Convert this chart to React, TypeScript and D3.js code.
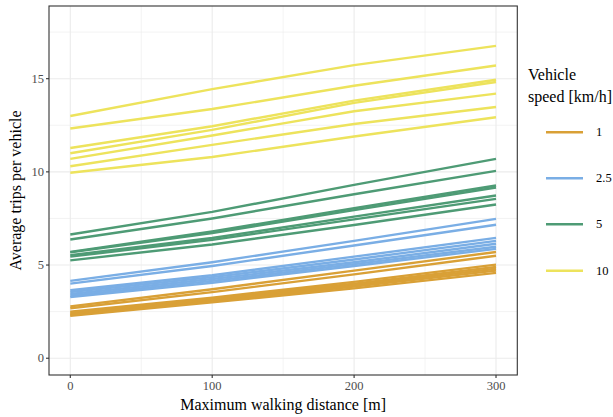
import React from "react";
import * as d3 from "d3";

const distances = [0, 100, 200, 300];
const speedLabels = ["1", "2.5", "5", "10"];
const speedColors = ["#d9a036", "#7aaee5", "#4e9b75", "#ede35c"];

const orangeSeries = [
  [2.78, 3.7, 4.7, 5.7],
  [2.68, 3.55, 4.5, 5.5],
  [2.5, 3.25, 4.1, 5.02],
  [2.45, 3.2, 4.0, 4.9],
  [2.38, 3.12, 3.92, 4.8],
  [2.32, 3.05, 3.85, 4.7],
  [2.27, 3.0, 3.75, 4.58],
];
const blueSeries = [
  [4.15, 5.15, 6.3, 7.48],
  [4.0, 4.95, 6.05, 7.16],
  [3.65, 4.45, 5.45, 6.46],
  [3.55, 4.35, 5.3, 6.3],
  [3.45, 4.25, 5.15, 6.14],
  [3.35, 4.15, 5.05, 5.98],
  [3.28, 4.05, 4.95, 5.87],
];
const greenSeries = [
  [6.64, 7.85, 9.3, 10.7],
  [6.37, 7.5, 8.8, 10.05],
  [5.71, 6.8, 8.05, 9.27],
  [5.68, 6.72, 7.95, 9.16],
  [5.53, 6.45, 7.6, 8.73],
  [5.45, 6.35, 7.45, 8.55],
  [5.25, 6.1, 7.15, 8.25],
];
const yellowSeries = [
  [13.0, 14.44, 15.73, 16.76],
  [12.33, 13.37, 14.62, 15.71],
  [11.28, 12.45, 13.82, 14.94],
  [11.0, 12.25, 13.7, 14.82],
  [10.7, 11.95, 13.25, 14.2],
  [10.3, 11.45, 12.57, 13.48],
  [9.95, 10.8, 11.9, 12.93],
];
const groups = [orangeSeries, blueSeries, greenSeries, yellowSeries];

const xTicks = [0, 100, 200, 300];
const xMinor = [50, 150, 250];
const yTicks = [0, 5, 10, 15];
const yMinor = [2.5, 7.5, 12.5, 17.5];

const W = 613;
const H = 417;
const panel = { left: 49, right: 517.3, top: 6, bottom: 375 };
const FONT = "'Liberation Serif', 'DejaVu Serif', serif";

export default function App() {
  const x = d3.scaleLinear().domain([-15, 315]).range([panel.left, panel.right]);
  const y = d3.scaleLinear().domain([-0.9, 18.9]).range([panel.bottom, panel.top]);
  const line = d3
    .line<number>()
    .x((_, i) => x(distances[i]))
    .y((d) => y(d));

  const legendY = [132.3, 178.3, 224.3, 270.7];

  return (
    <svg
      width={W}
      height={H}
      style={{ position: "absolute", left: 0, top: 0, background: "#fff" }}
      fontFamily={FONT}
    >
      <rect x={0} y={0} width={W} height={H} fill="#fff" />
      <rect
        x={panel.left}
        y={panel.top}
        width={panel.right - panel.left}
        height={panel.bottom - panel.top}
        fill="#fff"
      />
      {xMinor.map((t) => (
        <line key={"xm" + t} x1={x(t)} x2={x(t)} y1={panel.top} y2={panel.bottom} stroke="#ebebeb" strokeWidth={0.6} />
      ))}
      {yMinor.map((t) => (
        <line key={"ym" + t} x1={panel.left} x2={panel.right} y1={y(t)} y2={y(t)} stroke="#ebebeb" strokeWidth={0.6} />
      ))}
      {xTicks.map((t) => (
        <line key={"xM" + t} x1={x(t)} x2={x(t)} y1={panel.top} y2={panel.bottom} stroke="#ebebeb" strokeWidth={1.1} />
      ))}
      {yTicks.map((t) => (
        <line key={"yM" + t} x1={panel.left} x2={panel.right} y1={y(t)} y2={y(t)} stroke="#ebebeb" strokeWidth={1.1} />
      ))}
      {groups.map((g, gi) =>
        g.map((s, si) => (
          <path
            key={gi + "-" + si}
            d={line(s) || ""}
            fill="none"
            stroke={speedColors[gi]}
            strokeWidth={2.4}
            strokeLinejoin="round"
          />
        ))
      )}
      <rect
        x={panel.left}
        y={panel.top}
        width={panel.right - panel.left}
        height={panel.bottom - panel.top}
        fill="none"
        stroke="#333333"
        strokeWidth={1.1}
      />
      {xTicks.map((t) => (
        <g key={"xt" + t}>
          <line x1={x(t)} x2={x(t)} y1={panel.bottom} y2={panel.bottom + 3} stroke="#333333" strokeWidth={1.1} />
          <text x={x(t)} y={panel.bottom + 15} textAnchor="middle" fontSize={12.5} fill="#4d4d4d">
            {t}
          </text>
        </g>
      ))}
      {yTicks.map((t) => (
        <g key={"yt" + t}>
          <line x1={panel.left - 3} x2={panel.left} y1={y(t)} y2={y(t)} stroke="#333333" strokeWidth={1.1} />
          <text x={panel.left - 5} y={y(t) + 4} textAnchor="end" fontSize={12.5} fill="#4d4d4d">
            {t}
          </text>
        </g>
      ))}
      <text x={(panel.left + panel.right) / 2} y={410} textAnchor="middle" fontSize={16} fill="#000">
        Maximum walking distance [m]
      </text>
      <text
        transform={`translate(21, ${(panel.top + panel.bottom) / 2}) rotate(-90)`}
        textAnchor="middle"
        fontSize={16}
        fill="#000"
      >
        Average trips per vehicle
      </text>
      <text x={528} y={80} fontSize={16} fill="#000">
        Vehicle
      </text>
      <text x={528} y={102} fontSize={16} fill="#000">
        speed [km/h]
      </text>
      {speedLabels.map((lab, i) => (
        <g key={"lg" + lab}>
          <line x1={546} x2={583} y1={legendY[i]} y2={legendY[i]} stroke={speedColors[i]} strokeWidth={2.4} />
          <text x={596} y={legendY[i] + 4} fontSize={12.5} fill="#000">
            {lab}
          </text>
        </g>
      ))}
    </svg>
  );
}
